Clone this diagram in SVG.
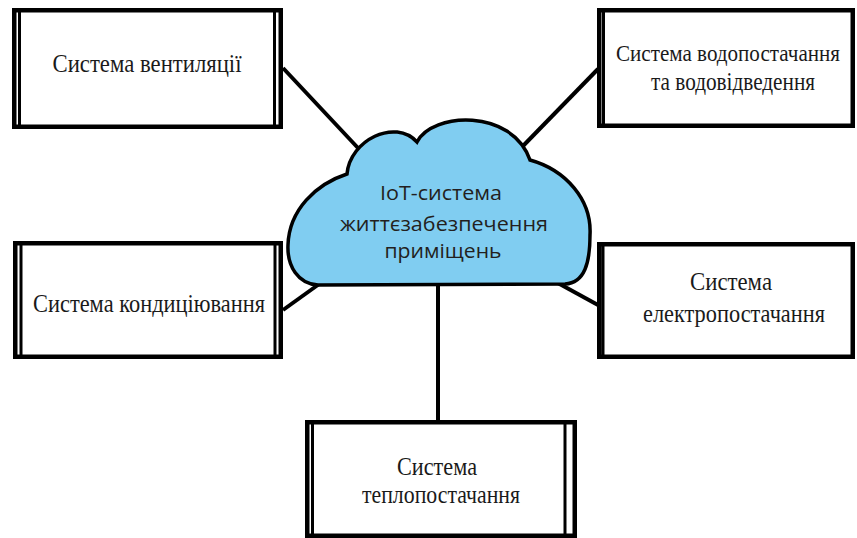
<svg xmlns="http://www.w3.org/2000/svg" width="857" height="538" viewBox="0 0 857 538">
  <style>
    .frame { fill: #ffffff; stroke: #000000; stroke-width: 4.5; }
    .inner { stroke: #000000; stroke-width: 3; }
    .lbl { font-family: "Liberation Serif", "Times New Roman", serif; font-size: 26px; fill: #1a1a1a; text-anchor: middle; }
    .cloud { fill: #80cdf1; stroke: #000000; stroke-width: 3.5; }
    .ctext { font-family: "Open Sans", "Noto Sans", sans-serif; font-size: 20px; font-weight: 500; fill: #231f20; text-anchor: middle; }
    .conn { stroke: #000000; stroke-width: 4; fill: none; }
  </style>
  <rect width="857" height="538" fill="#ffffff"/>

  <g id="connectors">
    <line class="conn" x1="283" y1="68" x2="358" y2="148"/>
    <line class="conn" x1="598" y1="69" x2="522" y2="147"/>
    <line class="conn" x1="283" y1="310" x2="322" y2="282"/>
    <line class="conn" x1="556" y1="282" x2="598" y2="305"/>
    <line class="conn" x1="438" y1="284" x2="438" y2="421"/>
  </g>

  <g id="cloud">
    <path class="cloud" d="M 318,285 C 298,284 287,266 288,245 C 289,210 316,184 347,174 C 350,140 395,118 417,142 C 432,112 512,108 530,160 C 566,170 592,200 590,235 C 590,262 585,283 565,284 Z"/>
    <text class="ctext" x="441" y="200" textLength="122" lengthAdjust="spacingAndGlyphs">IoT-система</text>
    <text class="ctext" x="444" y="231" textLength="208" lengthAdjust="spacingAndGlyphs">життєзабезпечення</text>
    <text class="ctext" x="443" y="258" textLength="117" lengthAdjust="spacingAndGlyphs">приміщень</text>
  </g>

  <g id="ventilation">
    <rect class="frame" x="14.25" y="10.25" width="266.5" height="116.5"/>
    <line class="inner" x1="19.5" y1="10" x2="19.5" y2="127"/>
    <line class="inner" x1="274.5" y1="10" x2="274.5" y2="127"/>
    <text class="lbl" x="147" y="72" textLength="189" lengthAdjust="spacingAndGlyphs">Система вентиляції</text>
  </g>

  <g id="water">
    <rect class="frame" x="599.25" y="10.25" width="253.5" height="115.5"/>
    <line class="inner" x1="603.5" y1="10" x2="603.5" y2="126"/>
    <text class="lbl" x="728" y="61" font-size="23" textLength="224" lengthAdjust="spacingAndGlyphs" style="font-size:23px">Система водопостачання</text>
    <text class="lbl" x="733" y="90" textLength="164" lengthAdjust="spacingAndGlyphs">та водовідведення</text>
  </g>

  <g id="conditioning">
    <rect class="frame" x="15.25" y="243.25" width="265.5" height="113.5"/>
    <line class="inner" x1="21" y1="243" x2="21" y2="357"/>
    <line class="inner" x1="275" y1="243" x2="275" y2="357"/>
    <text class="lbl" x="149" y="312" textLength="232" lengthAdjust="spacingAndGlyphs">Система кондиціювання</text>
  </g>

  <g id="electricity">
    <rect class="frame" x="599.25" y="244.25" width="253.5" height="112.5"/>
    <line class="inner" x1="603" y1="244" x2="603" y2="357"/>
    <line class="inner" x1="600" y1="244" x2="600" y2="357"/>
    <text class="lbl" x="731" y="290" textLength="82" lengthAdjust="spacingAndGlyphs">Система</text>
    <text class="lbl" x="734" y="322" textLength="182" lengthAdjust="spacingAndGlyphs">електропостачання</text>
  </g>

  <g id="heating">
    <rect class="frame" x="307.25" y="422.25" width="267.5" height="113.5"/>
    <line class="inner" x1="312.5" y1="422" x2="312.5" y2="536"/>
    <line class="inner" x1="565" y1="422" x2="565" y2="536"/>
    <text class="lbl" x="437" y="475" textLength="80" lengthAdjust="spacingAndGlyphs">Система</text>
    <text class="lbl" x="441" y="503" textLength="158" lengthAdjust="spacingAndGlyphs">теплопостачання</text>
  </g>
</svg>
